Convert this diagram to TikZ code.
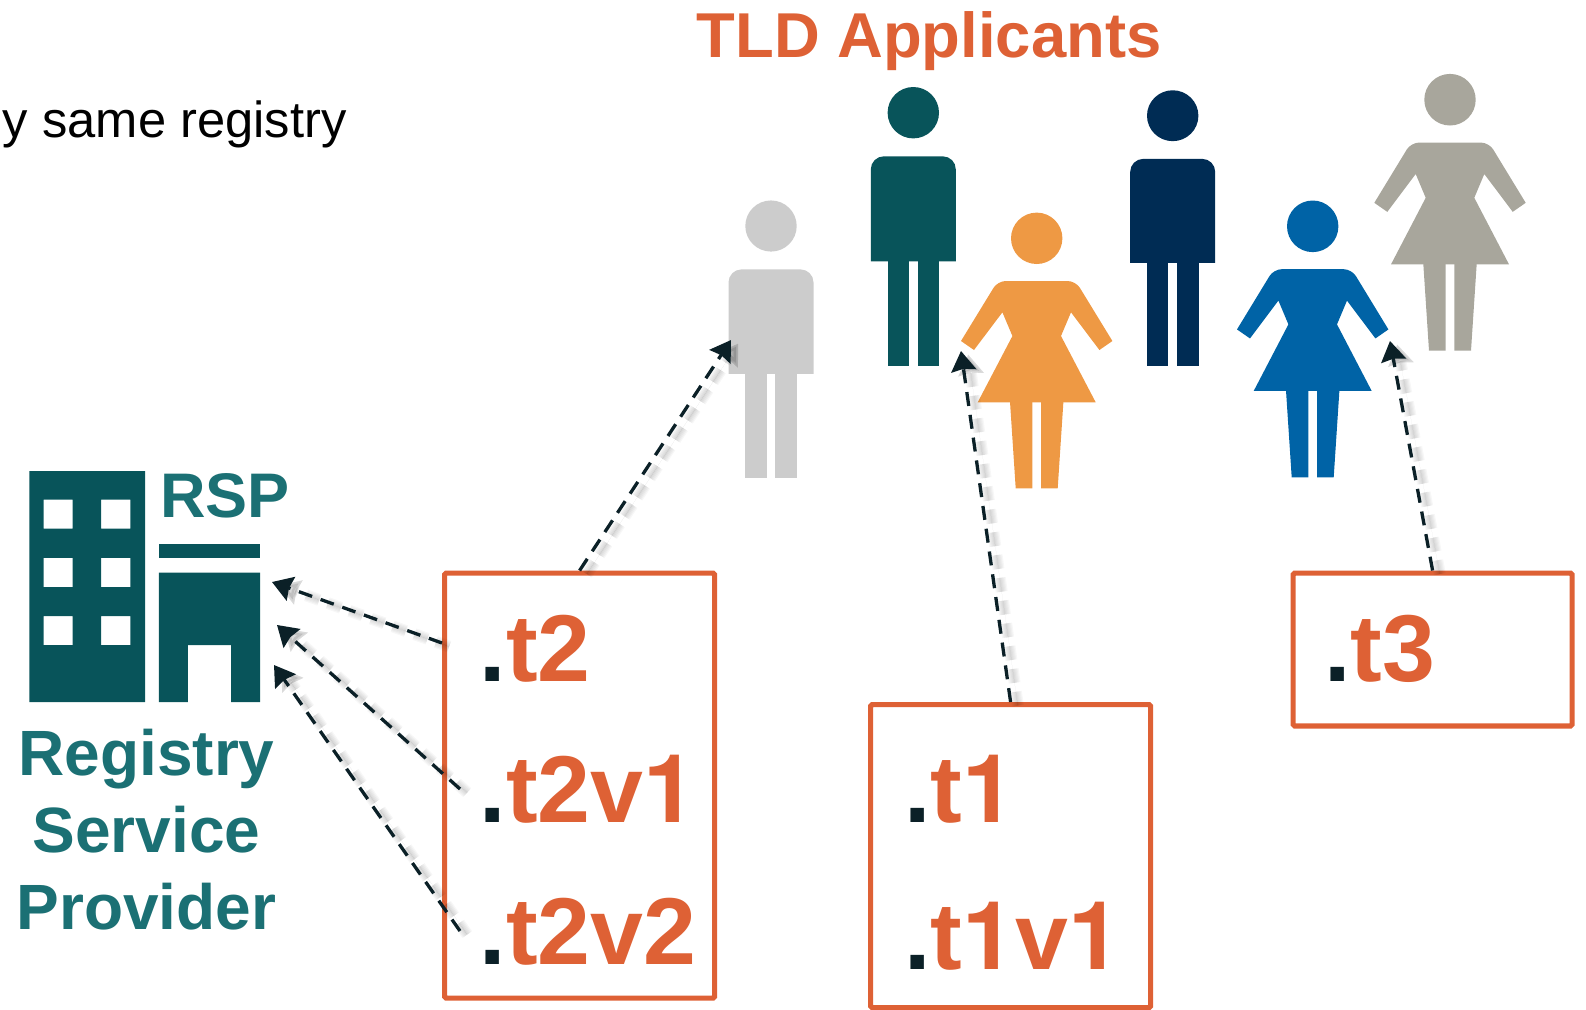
\documentclass[tikz,border=0pt]{standalone}
\usepackage{fontspec}
\setmainfont{Liberation Sans}
\newfontfamily\herosfont{TeX Gyre Heros}
\usetikzlibrary{arrows.meta}
\definecolor{tealdark}{HTML}{08545A}
\definecolor{tealtext}{HTML}{1B7074}
\definecolor{navy}{HTML}{002C54}
\definecolor{lightgray}{HTML}{CCCCCC}
\definecolor{amber}{HTML}{EE9944}
\definecolor{midblue}{HTML}{0063A6}
\definecolor{warmgray}{HTML}{A8A69C}
\definecolor{rust}{HTML}{DE6135}
\definecolor{inkdark}{HTML}{0B2027}
\tikzset{
  man/.pic={
    \fill (0,0) circle (25.7);
    \fill (-42.5,148.6) [rounded corners=6.5pt] -- (-42.5,43.6) -- (42.5,43.6) [sharp corners] -- (42.5,148.6) -- cycle;
    \fill (-25.6,148) rectangle (-4.3,253.3);
    \fill (4.4,148) rectangle (26,253.3);
  },
  woman/.pic={
    \fill (0,0) circle (25.7);
    \fill (-75.7,102.7) [rounded corners=4pt] -- (-39,42.7) -- (39,42.7) [sharp corners] -- (75.7,102.7) -- (62.7,111.7) -- (34.3,74) -- (24.3,97.7) -- (59,164) -- (-59,164) -- (-24.3,97.7) -- (-34.3,74) -- (-62.7,111.7) -- cycle;
    \fill (-26.7,163.5) -- (-4.3,163.5) -- (-4.3,250) -- (-21,250) -- cycle;
    \fill (26.7,163.5) -- (4.3,163.5) -- (4.3,250) -- (21,250) -- cycle;
  },
  tldbox/.style={draw=rust, line width=2.6pt, rounded corners=0.8pt, anchor=north west, inner sep=0pt},
  tldname/.style={anchor=base west, inner sep=0pt, font=\fontsize{47.5}{47.5}\selectfont\bfseries, text=rust},
  ttext/.style={inner sep=0pt, font=\fontsize{32}{32}\selectfont\bfseries, text=tealtext},
  flow/.style={draw=inkdark, line width=1.65pt, dash pattern=on 7pt off 4.5pt, -{Stealth[inset=1pt,length=10pt,width=12.5pt]}},
  flowshadow/.style={draw=black, fill=black, opacity=0.032, dash pattern=on 7pt off 4.5pt, -{Stealth[inset=1pt,length=10pt,width=12.5pt]}},
}
\newcommand{\dotmark}{\textcolor{inkdark}{.}}
\newcommand{\onedigit}{{\herosfont\bfseries 1}}
\newcommand{\flowline}[2]{%
  \foreach \wd in {1.2pt,2.4pt,3.6pt,4.8pt,6pt}{\draw[flowshadow,line width=\wd,transform canvas={shift={(3.6pt,-1.8pt)}}] (#1) -- (#2);}%
  \draw[flow] (#1) -- (#2);}
\begin{document}
\begin{tikzpicture}[x=0.5pt,y=-0.5pt]
\useasboundingbox (0,0) rectangle (1586,1009);
% title and clipped line
\node[anchor=base, inner sep=0pt, font=\fontsize{31.7}{31.7}\selectfont\bfseries, text=rust] (title) at (929,57.5) {TLD Applicants};
\node[anchor=base west, inner sep=0pt, font=\fontsize{25.35}{25.35}\selectfont, text=black] (clipline) at (2.5,137) {y same registry};
% people
\path[fill=lightgray] pic[yscale=0.995] at (771,226) {man};
\path[fill=tealdark] pic at (913.3,112.7) {man};
\path[fill=amber] pic at (1036.7,238.3) {woman};
\path[fill=navy] pic[yscale=0.99] at (1172.7,115.7) {man};
\path[fill=midblue] pic[yscale=1.004] at (1312.7,226.3) {woman};
\path[fill=warmgray] pic[yscale=1.004] at (1450,99.7) {woman};
% building
\fill[tealdark,even odd rule] (29.4,471) rectangle (145,702)
  (43.6,499.5) rectangle (72.5,528.7) (101,499.5) rectangle (130.4,528.7)
  (43.6,557.9) rectangle (72.5,587) (101,557.9) rectangle (130.4,587)
  (43.6,616) rectangle (72.5,645) (101,616) rectangle (130.4,645);
\fill[tealdark] (158.9,543.6) rectangle (260,558);
\fill[tealdark] (158.9,572.5) -- (260,572.5) -- (260,702) -- (231,702) -- (231,645) -- (187.8,645) -- (187.8,702) -- (158.9,702) -- cycle;
\node[inner sep=0pt, font=\fontsize{31.5}{31.5}\selectfont\bfseries, text=tealtext, anchor=base west] (rsp) at (160,517.5) {RSP};
\node[ttext,anchor=base] (reg1) at (146.5,775) {Registry};
\node[ttext,anchor=base] (reg2) at (146.5,852) {Service};
\node[ttext,anchor=base] (reg3) at (146.5,929) {Provider};
% boxes
\node[tldbox, minimum width=135pt, minimum height=212.5pt] (boxtwo) at (442,570.5) {};
\node[tldbox, minimum width=140pt, minimum height=151.5pt] (boxone) at (868,702) {};
\node[tldbox, minimum width=139.5pt, minimum height=76.4pt] (boxthree) at (1290.5,570.5) {};
\node[tldname] (ttwo) at (479.5,681) {\dotmark t2};
\node[tldname] (ttwovone) at (479.5,822) {\dotmark t2v\onedigit};
\node[tldname] (ttwovtwo) at (479.5,964) {\dotmark t2v2};
\node[tldname] (tone) at (904,822) {\dotmark t\onedigit};
\node[tldname] (tonevone) at (904,969) {\dotmark t\onedigit v\onedigit};
\node[tldname] (tthree) at (1324,681) {\dotmark t3};
% connector ends
\coordinate (gman) at (731,340);
\coordinate (awoman) at (961,351);
\coordinate (bwoman) at (1390,341);
\coordinate (rspa) at (272,582);
\coordinate (rspb) at (277,625);
\coordinate (rspc) at (274,665);
\coordinate (srca) at (boxtwo.west |- 0,643);
\coordinate (srcb) at (460,789);
\coordinate (srcc) at (460,931);
\flowline{boxtwo.north}{gman}
\flowline{srca}{rspa}
\flowline{srcb}{rspb}
\flowline{srcc}{rspc}
\flowline{boxone.north}{awoman}
\flowline{boxthree.north}{bwoman}
\end{tikzpicture}
\end{document}
